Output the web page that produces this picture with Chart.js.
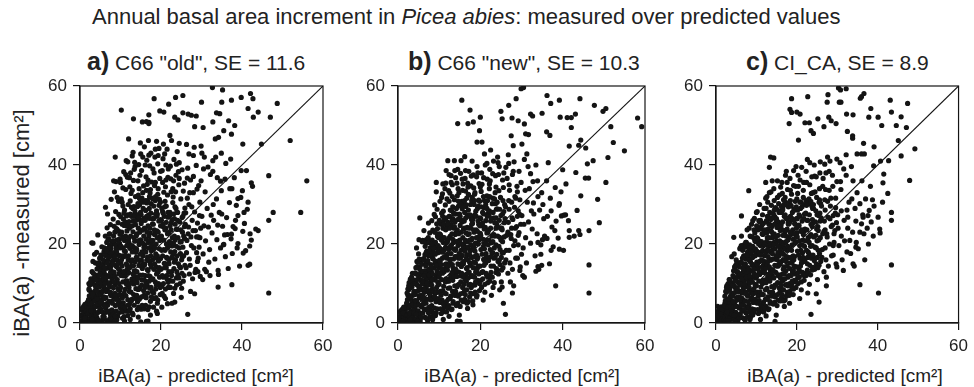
<!DOCTYPE html>
<html>
<head>
<meta charset="utf-8">
<script src="https://cdn.jsdelivr.net/npm/chart.js@4.4.1/dist/chart.umd.min.js"></script>
<style>
  body { margin: 0; background: #fff; width: 974px; height: 387px; overflow: hidden; position: relative;
         font-family: "Liberation Sans", Arial, Helvetica, sans-serif; color: #222; }
  canvas { position: absolute; left: 0; top: 0; }
  .txt { position: absolute; white-space: nowrap; line-height: 1; }
  .ptitle { font-size: 21px; line-height: 25px; }
  .ptitle b { font-size: 25px; }
  .xt { font-size: 19px; transform: translateX(-50%); }
</style>
</head>
<body>
<div class="txt" style="left:92px;top:6px;font-size:22px">Annual basal area increment in <i>Picea abies</i>: measured over predicted values</div>
<div class="txt ptitle" style="left:87px;top:49px"><b>a)</b> C66 "old", SE = 11.6</div>
<div class="txt ptitle" style="left:408px;top:49px"><b>b)</b> C66 "new", SE = 10.3</div>
<div class="txt ptitle" style="left:746px;top:49px"><b>c)</b> CI_CA, SE = 8.9</div>
<div class="txt xt" style="left:196px;top:366px">iBA(a) - predicted [cm²]</div>
<div class="txt xt" style="left:522px;top:366px">iBA(a) - predicted [cm²]</div>
<div class="txt xt" style="left:845px;top:366px">iBA(a) - predicted [cm²]</div>
<div class="txt" style="left:22px;top:223px;font-size:22px;transform:translate(-50%,-50%) rotate(-90deg)">iBA(a) -measured [cm²]</div>

<canvas id="ca" width="974" height="387"></canvas>
<canvas id="cb" width="974" height="387"></canvas>
<canvas id="cc" width="974" height="387"></canvas>

<script>
// axis ticks, same for all three panels
const tickValues = [0, 20, 40, 60];
// 1:1 reference line
const oneToOne = [[0, 0], [60, 60]];

// a) C66 "old": [predicted, measured]
const pointsA = [
  [0.4,0.6],[1.2,0.2],[0.9,1.5],[1.7,2.8],[1.4,0.9],[2.0,3.7],[0.6,2.1],[1.9,1.1],[1.1,3.2],[1.6,4.4],[0.8,0.4],[1.3,2.3],[2.1,0.6],[1.8,5.2],
  [2.4,3.2],[3.1,1.4],[2.8,6.1],[3.6,4.0],[2.3,8.3],[3.9,2.5],[3.3,7.2],[2.6,0.8],[3.7,9.6],[2.9,4.7],[3.4,11.3],[2.5,5.5],[3.8,6.4],[3.0,13.0],[2.7,2.2],[3.5,0.5],[3.2,15.6],[3.9,12.1],[2.2,10.0],[3.6,17.4],[2.9,20.3],[3.4,3.1],
  [4.2,1.3],[5.1,7.8],[4.7,4.2],[5.8,2.6],[4.4,9.9],[5.5,12.7],[4.9,0.4],[5.3,5.3],[4.0,6.8],[5.9,9.0],[4.6,14.1],[5.2,16.5],[4.3,11.6],[5.7,14.9],[4.8,2.9],[5.0,10.8],[5.6,6.0],[4.1,17.9],[5.4,19.3],[4.5,7.1],[5.9,18.0],[4.4,22.3],[5.1,3.6],[5.7,0.9],[4.9,12.4],
  [6.3,3.8],[7.4,1.2],[6.8,8.1],[7.9,5.5],[6.1,12.4],[7.2,14.7],[6.6,0.6],[7.7,10.3],[6.4,6.4],[7.0,17.6],[6.9,21.0],[7.6,7.2],[6.2,15.5],[7.3,19.8],[6.7,24.1],[7.8,13.1],[6.5,10.6],[7.1,3.0],[6.0,19.0],[7.5,24.9],[6.8,27.6],[7.9,16.9],[6.3,29.3],[7.2,22.5],[6.6,4.9],[7.7,1.9],[6.1,8.8],[7.4,11.9],[6.9,13.9],
  [8.2,2.7],[9.3,6.0],[8.7,9.7],[9.8,13.4],[8.4,15.9],[9.1,0.8],[8.9,18.8],[9.6,21.2],[8.1,12.0],[9.4,25.4],[8.6,23.0],[9.9,3.9],[8.3,6.6],[9.2,11.0],[8.8,28.2],[9.7,17.1],[8.0,20.5],[9.5,30.8],[8.5,33.2],[9.0,14.3],[8.7,4.4],[9.8,8.2],[8.2,26.3],[9.3,19.6],[8.9,35.8],[9.6,27.5],[8.4,1.1],[9.1,23.8],[8.6,17.4],[9.9,36.4],
  [10.3,7.0],[11.4,3.2],[10.8,11.9],[11.9,9.4],[10.1,15.2],[11.2,18.1],[10.6,21.7],[11.7,14.5],[10.4,25.0],[11.0,28.6],[10.9,1.6],[11.6,23.3],[10.2,31.4],[11.3,33.8],[10.7,5.1],[11.8,19.9],[10.5,17.0],[11.1,8.5],[10.0,35.6],[11.5,27.1],[10.8,38.3],[11.9,30.0],[10.3,12.8],[11.2,12.0],[10.6,29.6],[11.7,36.9],[10.1,22.5],[11.4,41.1],[10.9,24.7],[11.0,0.5],[10.4,3.4],[11.8,5.9],
  [12.2,4.7],[13.3,9.9],[12.7,14.4],[13.8,17.9],[12.1,20.3],[13.1,2.1],[12.9,24.6],[13.6,27.7],[12.4,30.9],[13.4,13.2],[12.6,7.8],[13.9,22.1],[12.3,34.5],[13.2,36.1],[12.8,11.1],[13.7,32.0],[12.0,17.0],[13.5,40.7],[12.5,38.0],[13.0,19.4],[12.7,27.0],[13.8,6.4],[12.2,24.0],[13.3,29.5],[12.9,42.3],[13.6,15.5],[12.4,0.9],[13.1,25.8],[12.6,32.8],[13.9,11.7],[12.1,9.0],[13.4,38.9],
  [14.2,5.4],[15.3,10.9],[14.7,15.8],[15.8,19.2],[14.1,22.6],[15.1,3.5],[14.9,26.1],[15.6,29.0],[14.4,32.4],[15.4,13.8],[14.6,8.6],[15.9,24.0],[14.3,36.0],[15.2,38.6],[14.8,12.1],[15.7,34.7],[14.0,18.5],[15.5,42.0],[14.5,40.1],[15.0,21.0],[14.7,29.9],[15.8,7.0],[14.2,27.4],[15.3,31.6],[14.9,45.6],[15.6,17.0],[14.4,1.5],[15.1,25.2],[14.6,34.0],[15.9,14.6],[14.1,10.2],[15.4,50.9],[15.0,0.3],
  [16.2,6.6],[17.3,11.8],[16.7,16.7],[17.8,20.6],[16.1,23.8],[17.1,4.1],[16.9,27.3],[17.6,30.2],[16.4,33.6],[17.4,14.9],[16.6,9.5],[17.9,25.1],[16.3,37.0],[17.2,39.8],[16.8,13.3],[17.7,35.7],[16.0,19.8],[17.5,43.0],[16.5,41.2],[17.0,22.0],[16.7,31.0],[17.8,8.0],[16.2,28.5],[17.3,32.9],[16.9,46.2],[17.6,18.3],[16.4,0.4],[17.1,26.5],[16.6,35.1],[17.9,16.0],[16.1,12.0],[17.4,2.0],[17.0,50.8],
  [18.2,7.6],[19.3,12.9],[18.7,17.5],[19.8,21.9],[18.1,25.0],[19.1,5.0],[18.9,28.4],[19.6,31.3],[18.4,34.8],[19.4,15.7],[18.6,10.4],[19.9,26.2],[18.3,38.0],[19.2,40.3],[18.8,14.2],[19.7,36.6],[18.0,20.9],[19.5,44.2],[18.5,42.0],[19.0,23.3],[18.7,32.0],[19.8,9.0],[18.2,29.6],[19.3,34.0],[18.9,3.0],[19.6,18.8],[18.4,22.4],[19.1,27.6],[19.9,16.3],
  [20.2,9.3],[21.3,14.0],[20.7,18.6],[21.8,22.9],[20.1,26.0],[21.1,6.2],[20.9,29.4],[21.6,32.4],[20.4,35.6],[21.4,16.6],[20.6,11.6],[21.9,27.0],[20.3,38.6],[21.2,40.0],[20.8,15.1],[21.7,36.9],[20.0,21.9],[21.5,20.0],[20.5,24.4],[21.0,30.8],[20.7,33.1],[21.8,10.3],[20.2,4.0],[21.3,25.5],[20.9,42.8],[21.6,19.0],[20.4,28.2],[21.1,34.5],[20.6,45.3],[21.9,13.0],
  [22.2,10.8],[23.3,15.4],[22.7,19.5],[23.8,23.8],[22.1,27.0],[23.1,7.5],[22.9,30.5],[23.6,33.2],[22.4,36.5],[23.4,18.1],[22.6,13.0],[23.9,28.0],[22.3,39.7],[23.2,41.4],[22.8,16.5],[23.7,37.4],[22.0,22.8],[23.5,21.0],[22.5,25.3],[23.0,31.9],[22.7,5.0],[23.8,11.4],[22.2,47.5],[23.3,26.4],[22.9,34.0],
  [24.2,12.2],[25.3,16.8],[24.7,20.5],[25.8,24.4],[24.1,28.0],[25.1,8.8],[24.9,31.4],[25.6,22.0],[24.4,35.0],[25.4,19.2],[24.6,14.3],[25.9,29.1],[24.3,38.3],[25.2,26.7],[24.8,17.6],[25.7,12.0],[24.0,23.7],[25.5,33.4],[24.5,40.6],[25.0,6.5],
  [26.2,14.0],[27.5,19.6],[26.8,24.3],[28.3,28.1],[27.1,33.0],[29.2,16.4],[26.5,36.7],[28.8,21.8],[27.8,11.2],[29.6,30.6],[26.1,27.9],[28.0,37.1],[27.3,8.0],[29.0,25.3],[26.9,42.8],[28.6,13.6],[29.9,36.0],[27.6,29.4],[26.4,20.9],[28.9,33.9],[29.4,19.2],[27.0,16.2],[28.2,44.5],[29.7,11.8],
  [30.4,17.5],[31.7,24.3],[32.9,30.0],[30.9,33.2],[33.8,21.1],[31.2,13.0],[34.4,28.0],[32.2,37.6],[30.1,27.0],[33.3,16.2],[34.9,33.5],[31.6,39.5],[32.6,22.8],[30.7,42.0],[33.9,36.8],[34.2,12.3],[31.0,20.8],[32.4,27.3],[33.5,42.0],[34.7,19.0],[30.3,11.0],
  [35.5,19.9],[36.2,26.7],[36.9,30.5],[37.6,17.6],[38.3,23.9],[39.0,27.2],[39.7,31.8],[35.8,36.4],[36.6,13.8],[37.3,21.3],[38.1,36.8],[38.8,19.0],[40.6,25.2],[41.3,28.8],[42.6,34.6],[43.4,23.8],[41.9,14.9],[40.9,18.3],[36.0,40.4],[39.4,14.4],[42.0,22.6],[35.2,24.5],
  // scattered points away from the cloud
  [10.2,53.9],[18.3,56.8],[23.6,57.1],[25.4,57.6],[32.7,59.6],[35.2,59.0],[30.0,55.9],[35.0,55.9],[37.4,56.4],[39.8,57.1],[42.1,58.1],[42.7,56.8],[48.7,55.6],[41.5,54.3],[44.0,53.4],[42.8,52.1],[47.0,52.1],[21.9,55.4],[19.7,53.7],[13.2,51.7],[17.0,52.7],[16.4,51.0],[17.0,50.5],[20.7,53.4],[23.4,52.1],[24.2,51.4],[25.4,53.2],[26.7,52.9],[27.5,52.6],[28.7,52.4],[28.3,49.7],[30.4,49.5],[32.8,50.9],[33.7,53.2],[34.5,53.0],[38.2,50.0],[37.4,47.8],[33.4,46.6],[34.2,47.0],[35.5,48.7],[36.7,51.2],[40.2,45.3],[44.8,45.3],[51.9,46.2],[56.0,36.0],[46.6,37.3],[42.3,35.5],[40.1,33.5],[41.1,38.6],[39.8,38.6],[47.7,28.0],[54.5,28.0],[46.6,26.0],[44.0,23.4],[41.5,14.6],[37.5,9.7],[46.6,7.6],[26.6,2.2],[12.0,46.6],[8.7,42.0],[8.3,36.0],[7.7,31.3],[3.2,20.2],[3.8,15.2],[15.0,42.8],[17.0,42.5],[18.6,44.0],[19.3,42.4],[22.6,46.2],[24.5,45.5],[30.1,43.0],[28.0,42.4],[29.9,44.8],[34.9,43.0],[37.2,41.5],[32.8,41.1],[30.5,39.0],[32.8,38.4],[34.7,35.9],[37.5,34.0],[39.0,31.5],[41.5,30.6],[40.5,28.0],[38.4,26.0],[37.8,24.4],[37.4,22.5],[40.2,23.2],[42.3,21.0],[41.9,19.5],[40.3,17.7],[39.0,20.1],[35.7,22.3],[35.4,19.8],[34.1,13.3],[32.1,12.0],[30.8,13.6],[29.1,13.0],[28.3,7.4],[21.6,4.9],[23.4,5.3],[19.1,2.4],[16.8,0.5],[34.1,9.1]
];
// a) the dark core of the cloud and its denser fringe
const coreA = [
  [0.2,1.8],[0.5,3.3],[0.7,0.9],[1.0,2.6],[1.2,4.7],[1.4,1.9],[1.6,0.3],[1.8,3.9],[0.3,0.2],[0.9,4.2],[1.5,3.1],[1.1,0.7],[1.9,2.4],[0.6,3.8],[1.3,1.3],
  [2.1,5.9],[2.2,2.8],[2.4,9.6],[2.5,1.2],[2.6,4.3],[2.7,11.2],[2.8,7.7],[2.9,2.0],[3.0,5.0],[3.1,9.9],[3.2,3.7],[3.3,0.4],[3.4,6.6],[3.5,10.8],[3.6,8.0],[3.7,1.9],[3.8,4.2],[3.9,9.0],[2.3,6.9],[2.5,0.2],[2.8,3.1],[3.1,7.4],[3.4,1.6],[3.7,11.9],[3.9,5.9],[2.2,8.6],[2.6,10.4],[3.0,0.9],[3.3,12.6],[3.6,5.6],
  [4.0,2.1],[4.1,8.2],[4.2,13.7],[4.3,4.9],[4.4,0.8],[4.5,10.9],[4.6,6.0],[4.7,15.3],[4.8,9.1],[4.9,3.6],[5.0,12.9],[5.1,0.2],[5.2,7.0],[5.3,14.6],[5.4,2.9],[5.5,9.4],[5.6,11.7],[5.7,4.7],[5.8,15.9],[5.9,6.6],[4.05,11.0],[4.25,6.2],[4.45,2.7],[4.65,12.0],[4.85,16.4],[5.05,5.2],[5.25,10.2],[5.45,13.6],[5.65,1.6],[5.85,11.0],[4.35,15.0],[4.75,0.6],[5.15,17.2],[5.55,8.0],[5.95,13.2],
  [6.0,1.5],[6.1,6.2],[6.2,10.0],[6.3,17.1],[6.4,2.7],[6.5,13.9],[6.6,20.4],[6.7,8.4],[6.8,4.5],[6.9,16.0],[7.0,11.8],[7.1,21.3],[7.2,5.5],[7.3,9.2],[7.4,18.0],[7.5,2.2],[7.6,14.2],[7.7,6.9],[7.8,20.0],[7.9,11.0],[6.05,14.0],[6.25,22.0],[6.45,8.0],[6.65,12.0],[6.85,18.9],[7.05,0.3],[7.25,16.8],[7.45,7.8],[7.65,19.0],[7.85,3.3],[6.15,4.2],[6.35,11.4],[6.55,18.3],[6.75,15.2],[6.95,2.9],[7.15,9.9],[7.35,22.6],[7.55,12.8],[7.75,0.9],[7.95,15.6],
  [8.0,5.0],[8.1,17.8],[8.2,9.0],[8.3,22.0],[8.4,12.9],[8.5,0.4],[8.6,7.5],[8.7,19.9],[8.8,14.6],[8.9,3.0],[9.0,10.4],[9.1,21.0],[9.2,16.0],[9.3,1.7],[9.4,8.5],[9.5,23.3],[9.6,12.5],[9.7,5.4],[9.8,19.0],[9.9,15.5],[8.05,14.9],[8.25,2.2],[8.45,24.5],[8.65,11.8],[8.85,6.0],[9.05,18.0],[9.25,4.7],[9.45,13.8],[9.65,10.0],[9.85,22.5],[8.15,20.8],[8.35,10.5],[8.55,16.9],[8.75,1.8],[8.95,23.9],[9.15,7.1],[9.35,15.0],[9.55,2.6],[9.75,20.2],[9.95,7.0],
  [10.0,9.0],[10.1,19.5],[10.2,4.4],[10.3,23.0],[10.4,14.4],[10.5,1.2],[10.6,10.4],[10.7,26.3],[10.8,16.8],[10.9,7.6],[11.0,20.9],[11.1,12.9],[11.2,3.0],[11.3,17.0],[11.4,24.6],[11.5,9.8],[11.6,13.5],[11.7,27.4],[11.8,1.9],[11.9,16.0],[10.05,26.9],[10.25,16.0],[10.45,6.3],[10.65,19.0],[10.85,27.8],[11.05,4.0],[11.25,22.0],[11.45,15.0],[11.65,10.7],[11.85,24.8],[10.15,12.0],[10.35,2.8],[10.55,21.4],[10.75,13.0],[10.95,18.3],[11.15,25.6],[11.35,6.9],[11.55,19.6],[11.75,4.5],[11.95,21.0],
  [12.0,12.8],[12.1,25.7],[12.2,8.0],[12.3,18.9],[12.4,3.6],[12.5,22.0],[12.6,15.6],[12.7,29.3],[12.8,6.0],[12.9,18.0],[13.0,10.5],[13.1,23.1],[13.2,14.5],[13.3,27.0],[13.4,4.5],[13.5,20.7],[13.6,11.2],[13.7,24.9],[13.8,8.7],[13.9,16.6],[12.05,21.5],[12.25,14.0],[12.45,27.6],[12.65,5.5],[12.85,16.0],[13.05,29.0],[13.25,7.2],[13.45,19.0],[13.65,13.0],[13.85,26.0],[12.15,3.0],[12.35,10.0],[12.55,24.5],[12.75,19.6],[12.95,2.5],[13.15,12.3],[13.35,21.6],[13.55,28.4],[13.75,6.2],[13.95,18.8],
  [14.0,7.0],[14.1,16.4],[14.2,29.5],[14.3,11.3],[14.4,24.0],[14.5,4.0],[14.6,19.9],[14.7,31.5],[14.8,9.0],[14.9,21.0],[15.0,14.4],[15.1,27.4],[15.2,6.6],[15.3,18.0],[15.4,23.5],[15.5,12.1],[15.6,30.6],[15.7,8.2],[15.8,26.5],[15.9,19.0],[14.05,13.0],[14.25,20.8],[14.45,26.7],[14.65,6.0],[14.85,17.4],[15.05,31.0],[15.25,9.6],[15.45,20.2],[15.65,14.9],[15.85,3.6],[14.15,3.4],[14.35,8.5],[14.55,14.6],[14.75,23.0],[14.95,28.0],[15.15,16.0],[15.35,4.5],[15.55,26.0],[15.75,22.0],[15.95,10.8],
  [16.0,15.0],[16.1,26.0],[16.2,4.5],[16.3,21.2],[16.4,10.0],[16.5,30.4],[16.6,16.0],[16.7,7.6],[16.8,24.6],[16.9,12.0],[17.0,19.0],[17.1,29.0],[17.2,8.8],[17.3,22.8],[17.4,5.5],[17.5,27.8],[17.6,14.2],[17.7,19.6],[17.8,11.0],[17.9,31.5],[16.05,9.0],[16.25,18.0],[16.45,27.0],[16.65,13.5],[16.85,20.4],[17.05,10.6],[17.25,24.0],[17.45,17.0],[17.65,6.6],[17.85,26.4],[16.15,31.0],[16.35,6.4],[16.55,23.0],[16.75,3.4],[16.95,15.8],[17.15,32.0],[17.35,21.0],[17.55,9.0],
  [18.0,11.2],[18.1,18.6],[18.2,26.4],[18.3,6.2],[18.4,15.0],[18.5,23.0],[18.6,31.0],[18.7,8.6],[18.8,20.0],[18.9,12.4],[19.0,27.0],[19.1,17.0],[19.2,5.8],[19.3,23.0],[19.4,10.0],[19.5,29.8],[19.6,14.0],[19.7,20.9],[19.8,7.2],[19.9,24.6],[18.05,31.6],[18.25,13.6],[18.45,19.0],[18.65,27.6],[18.85,9.6],[19.05,21.6],[19.25,16.0],[19.45,25.8],[19.65,11.6],[19.85,30.6],[18.15,4.0],[18.35,23.6],[18.55,16.6],[18.75,6.4],[19.15,13.0],
  [20.0,13.6],[20.1,22.0],[20.2,29.0],[20.3,7.5],[20.4,17.0],[20.5,25.0],[20.6,10.0],[20.7,21.0],[20.8,27.0],[20.9,14.0],[21.0,18.4],[21.1,8.6],[21.2,24.0],[21.3,29.6],[21.4,12.0],[21.5,16.4],[21.6,22.6],[21.7,26.8],[21.8,9.0],[21.9,19.6],[20.15,18.4],[20.35,12.0],[20.55,27.8],[20.75,6.8],[20.95,23.6],[21.15,15.0],[21.35,20.0],[21.55,11.0],[21.75,28.0],[21.95,16.0],
  [22.0,15.0],[22.1,20.6],[22.2,28.0],[22.3,9.0],[22.4,18.0],[22.5,23.6],[22.6,12.0],[22.7,26.0],[22.8,21.6],[22.9,10.6],[23.0,17.4],[23.1,27.6],[23.2,13.8],[23.3,22.0],[23.4,8.8],[23.5,25.0],[23.6,16.0],[23.7,29.0],[23.8,19.4],[23.9,13.0],[22.25,24.6],[22.65,16.6],[23.05,20.2],[23.45,29.4],[23.85,9.6],
  [24.0,17.0],[24.2,21.6],[24.4,11.4],[24.6,25.6],[24.8,14.0],[25.0,20.6],[25.2,12.6],[25.4,27.0],[25.6,17.0],[25.8,21.4],[24.1,26.0],[24.3,15.0],[24.5,19.0],[24.7,10.0],[24.9,23.6],[25.1,16.0],[25.3,23.0],[25.5,10.6],[25.7,27.8],[25.9,14.6],
  [26.3,17.8],[26.7,22.6],[27.2,14.6],[27.7,26.0],[28.1,19.0],[28.5,23.4],[29.0,15.6],[29.5,27.2],[26.0,25.0],[26.9,30.0],[27.4,21.8],[28.4,12.8],[29.2,21.8],[29.8,24.0],[27.0,12.4],
  [9.2,31.8],[10.6,34.2],[11.3,37.6],[12.2,36.8],[12.9,33.6],[13.6,39.6],[14.3,30.2],[14.8,37.4],[15.5,33.0],[16.1,40.0],[16.8,36.2],[17.4,33.8],[18.0,39.0],[18.6,35.6],[19.2,32.6],[19.9,38.4],[20.5,41.6],[21.2,36.2],[21.8,39.0],[22.5,33.2],[23.1,36.0],[23.8,40.2],[24.5,36.6],[25.2,38.8],[25.8,35.4],[26.6,39.2],[27.3,36.2],[28.0,33.0],[28.7,39.9],[29.3,34.8],[13.1,43.2],[15.9,44.6],[18.9,46.0],[21.5,44.0],[24.0,43.4],[26.3,45.2],[11.8,40.8],[10.4,30.6],
  [26.5,31.6],[27.9,23.4],[28.8,17.8],[30.6,24.6],[31.4,29.0],[32.0,18.6],[33.0,26.0],[33.7,31.4],[35.0,27.6],[36.4,22.4],[37.0,34.0],[38.6,29.8],[31.8,15.4],[29.6,21.6],[35.9,16.8],[34.0,24.8]
];

// b) C66 "new"
const pointsB = [
  [0.5,0.4],[1.3,0.9],[0.9,2.0],[1.8,1.5],[1.1,3.1],[0.6,1.0],[1.6,2.6],[2.0,0.3],[1.4,4.0],[0.8,2.8],[1.9,3.6],
  [2.3,1.8],[3.2,4.6],[2.7,6.3],[3.6,2.7],[2.5,3.9],[3.9,7.8],[2.9,0.6],[3.4,9.2],[2.2,5.2],[3.7,5.5],[3.0,11.1],[2.6,8.4],[3.8,0.9],[3.3,2.0],[2.8,10.0],[3.5,12.6],[2.4,7.1],[3.1,6.9],
  [4.2,3.3],[5.1,6.9],[4.7,9.6],[5.8,4.4],[4.4,12.4],[5.5,11.0],[4.9,1.2],[5.3,14.2],[4.0,5.6],[5.9,8.5],[4.6,15.6],[5.2,2.3],[4.3,7.9],[5.7,12.9],[4.8,4.6],[5.0,17.5],[5.6,16.0],[4.1,10.5],[5.4,0.5],[4.5,19.0],[5.9,20.6],[4.4,0.2],[5.1,9.0],
  [6.3,5.1],[7.4,2.6],[6.8,9.2],[7.9,6.7],[6.1,13.0],[7.2,15.6],[6.6,1.4],[7.7,11.4],[6.4,7.8],[7.0,18.2],[6.9,21.1],[7.6,4.0],[6.2,16.3],[7.3,13.3],[6.7,11.0],[7.8,17.9],[6.5,3.4],[7.1,8.0],[6.0,20.9],[7.5,20.5],[6.8,15.0],[7.9,10.4],[6.3,23.4],[7.2,0.6],[6.6,6.1],[7.7,22.8],[6.1,9.9],[7.4,25.3],
  [8.2,4.4],[9.3,7.7],[8.7,11.0],[9.8,14.3],[8.4,16.5],[9.1,1.9],[8.9,19.5],[9.6,21.9],[8.1,13.1],[9.4,25.1],[8.6,23.3],[9.9,5.8],[8.3,8.6],[9.2,12.0],[8.8,27.5],[9.7,17.8],[8.0,20.3],[9.5,28.8],[8.5,2.6],[9.0,15.2],[8.7,6.1],[9.8,9.8],[8.2,25.9],[9.3,19.0],[8.9,29.9],[9.6,23.9],[8.4,0.8],[9.1,26.9],[8.6,18.0],[9.9,11.7],
  [10.3,8.0],[11.4,4.6],[10.8,12.6],[11.9,10.6],[10.1,15.9],[11.2,18.5],[10.6,21.8],[11.7,15.0],[10.4,25.0],[11.0,28.3],[10.9,2.8],[11.6,23.6],[10.2,30.8],[11.3,26.2],[10.7,5.8],[11.8,20.3],[10.5,18.0],[11.1,9.3],[10.0,12.0],[11.5,29.9],[10.8,32.7],[11.9,31.4],[10.3,14.0],[11.2,13.0],[10.6,27.8],[11.7,7.4],[10.1,22.6],[11.4,34.0],[10.9,24.0],[11.0,0.9],
  [12.2,6.0],[13.3,10.8],[12.7,15.0],[13.8,18.6],[12.1,20.9],[13.1,3.5],[12.9,24.9],[13.6,27.6],[12.4,30.8],[13.4,13.9],[12.6,8.9],[13.9,22.4],[12.3,33.5],[13.2,35.0],[12.8,12.0],[13.7,31.2],[12.0,17.4],[13.5,16.2],[12.5,27.0],[13.0,19.8],[12.7,22.0],[13.8,7.2],[12.2,11.1],[13.3,29.4],[12.9,37.3],[13.6,24.0],[12.4,1.7],[13.1,26.0],[12.6,32.9],[13.9,12.2],[12.1,25.5],[13.4,5.0],
  [14.2,7.0],[15.3,11.9],[14.7,16.4],[15.8,19.6],[14.1,22.9],[15.1,4.2],[14.9,26.3],[15.6,28.9],[14.4,32.2],[15.4,14.3],[14.6,9.6],[15.9,23.8],[14.3,35.4],[15.2,37.9],[14.8,12.9],[15.7,33.6],[14.0,18.8],[15.5,30.8],[14.5,38.9],[15.0,21.0],[14.7,29.6],[15.8,7.6],[14.2,27.6],[15.3,26.0],[14.9,2.0],[15.6,17.1],[14.4,20.6],[15.1,24.7],[14.6,34.0],[15.9,15.0],[14.1,13.2],[14.4,0.5],[15.1,0.4],
  [16.2,8.3],[17.3,12.9],[16.7,17.3],[17.8,21.0],[16.1,24.0],[17.1,5.4],[16.9,27.3],[17.6,30.0],[16.4,33.4],[17.4,15.3],[16.6,10.6],[17.9,25.0],[16.3,36.6],[17.2,38.4],[16.8,14.0],[17.7,34.7],[16.0,20.0],[17.5,18.3],[16.5,29.5],[17.0,22.4],[16.7,31.6],[17.8,9.0],[16.2,28.0],[17.3,27.0],[16.9,3.7],[17.6,24.1],[16.4,12.2],[17.1,32.6],[16.6,19.0],[17.9,16.6],
  [18.2,9.6],[19.3,14.0],[18.7,18.2],[19.8,22.0],[18.1,25.2],[19.1,6.6],[18.9,28.3],[19.6,31.1],[18.4,34.2],[19.4,16.6],[18.6,11.6],[19.9,26.6],[18.3,37.5],[19.2,39.6],[18.8,15.2],[19.7,35.3],[18.0,21.4],[19.5,20.0],[18.5,30.0],[19.0,23.6],[18.7,33.0],[19.8,10.0],[18.2,4.6],[19.3,29.0],[18.9,13.0],[19.6,25.0],[18.4,27.0],[19.1,37.0],
  [20.2,10.8],[21.3,15.2],[20.7,19.3],[21.8,23.0],[20.1,26.4],[21.1,7.8],[20.9,29.2],[21.6,32.2],[20.4,35.1],[21.4,17.6],[20.6,13.0],[21.9,27.8],[20.3,38.0],[21.2,40.0],[20.8,16.1],[21.7,36.4],[20.0,22.7],[21.5,21.0],[20.5,24.6],[21.0,31.0],[20.7,5.8],[21.8,11.6],[20.2,33.3],[21.3,25.9],[20.9,20.0],[21.6,29.0],
  [22.2,12.0],[23.3,16.4],[22.7,20.3],[23.8,24.0],[22.1,27.3],[23.1,9.0],[22.9,30.2],[23.6,33.0],[22.4,36.0],[23.4,19.0],[22.6,14.4],[23.9,28.8],[22.3,38.9],[23.2,41.0],[22.8,17.7],[23.7,37.3],[22.0,23.5],[23.5,22.0],[22.5,25.8],[23.0,31.6],[22.7,7.0],[23.8,12.8],[22.2,34.0],[23.3,26.6],
  [24.2,13.4],[25.3,17.8],[24.7,21.7],[25.8,25.4],[24.1,28.9],[25.1,10.4],[24.9,31.8],[25.6,34.3],[24.4,37.6],[25.4,20.6],[24.6,15.9],[25.9,30.0],[24.3,40.6],[25.2,24.0],[24.8,18.6],[25.7,38.0],[24.0,25.0],[25.5,14.0],[24.5,33.5],[25.0,27.2],[24.7,8.4],
  [26.2,16.0],[27.5,21.4],[26.8,25.5],[28.3,29.3],[27.1,33.6],[29.2,19.8],[26.5,36.6],[28.8,24.4],[27.8,13.6],[29.6,31.2],[26.1,29.4],[28.0,38.4],[27.3,10.4],[29.0,27.0],[26.9,40.4],[28.6,16.4],[29.9,35.6],[27.6,30.6],[26.4,22.2],[28.9,34.6],[29.4,22.9],[27.0,18.4],[28.2,40.8],[29.7,14.2],[26.7,12.6],[27.9,26.2],
  [30.4,19.0],[31.7,25.6],[32.9,30.4],[30.9,33.6],[33.8,22.6],[31.2,15.2],[34.4,28.6],[32.2,37.8],[30.1,27.2],[33.3,17.0],[34.9,33.0],[31.6,39.6],[32.6,23.8],[30.7,41.4],[33.9,36.0],[34.2,13.6],[31.0,21.6],[32.4,28.4],[33.5,40.0],[34.7,19.8],[30.3,12.0],[31.9,34.0],
  [35.6,22.0],[36.3,27.0],[37.0,31.6],[37.7,19.3],[38.4,25.8],[39.1,29.8],[36.1,36.0],[36.8,15.0],[37.4,24.3],[38.2,34.3],[38.9,21.5],[40.7,27.4],[41.6,23.4],[42.8,22.0],[35.2,30.0],[39.6,33.2],[40.2,18.4],[36.5,40.6],[43.5,28.5],
  // scattered points away from the cloud
  [15.5,56.4],[17.5,53.9],[14.5,50.5],[17.0,50.5],[18.3,50.9],[20.0,52.1],[19.8,48.7],[19.2,45.8],[20.4,45.8],[22.5,43.8],[29.9,59.3],[30.5,59.6],[28.7,56.8],[26.9,55.1],[25.0,53.6],[25.3,51.7],[27.7,51.9],[29.2,51.2],[30.7,50.4],[32.2,52.9],[32.7,52.4],[31.0,47.9],[31.7,47.7],[27.5,47.4],[28.0,44.9],[30.1,45.3],[31.3,42.8],[35.0,53.1],[36.2,57.6],[37.1,55.6],[39.2,56.4],[39.4,52.1],[41.1,52.0],[42.1,52.0],[43.1,52.9],[44.2,56.8],[47.7,55.1],[49.8,53.6],[50.5,54.3],[51.7,49.7],[42.1,49.5],[36.1,48.4],[36.9,47.5],[44.4,46.3],[41.6,44.8],[43.9,45.0],[45.6,44.3],[52.3,45.7],[55.0,43.6],[51.0,41.9],[46.0,40.3],[47.4,41.1],[43.2,38.1],[45.5,36.7],[46.3,36.7],[50.5,35.6],[48.5,31.3],[44.4,32.2],[40.8,35.2],[39.2,30.2],[40.0,38.8],[58.2,51.9],[59.2,49.7],[48.9,25.4],[46.4,23.4],[43.9,23.4],[44.2,22.4],[41.6,21.7],[41.4,25.9],[39.7,27.1],[40.3,27.3],[38.1,23.4],[39.2,18.7],[37.2,18.4],[34.7,17.4],[35.1,21.1],[34.0,20.4],[46.4,14.7],[46.4,7.6],[38.3,9.4],[33.5,13.1],[34.0,14.3],[34.9,14.6],[30.7,11.6],[29.6,13.3],[27.8,7.6],[28.1,9.4],[25.6,5.0],[26.1,2.2],[25.3,9.1],[5.3,26.6],[5.1,21.1],[9.3,35.6],[9.3,33.2],[12.1,41.1],[13.7,41.1],[15.3,41.1],[16.2,42.1],[11.7,38.6],[13.8,38.6],[12.9,35.6],[10.9,35.2],[15.8,35.2],[16.9,35.4]
];
// b) the dark core of the cloud and its denser fringe
const coreB = [
  [0.3,1.4],[0.5,2.9],[0.7,0.5],[1.0,2.0],[1.2,3.6],[1.4,1.1],[1.6,0.2],[1.8,2.7],[0.2,0.7],[0.9,3.3],[1.5,3.9],[1.1,0.4],[1.9,1.9],[0.6,2.4],[1.3,2.6],
  [2.1,4.9],[2.2,2.0],[2.4,8.6],[2.5,1.0],[2.6,3.8],[2.7,10.2],[2.8,6.7],[2.9,1.6],[3.0,4.4],[3.1,8.9],[3.2,3.0],[3.3,0.3],[3.4,5.6],[3.5,9.8],[3.6,7.0],[3.7,1.4],[3.8,3.6],[3.9,8.0],[2.3,5.9],[2.5,0.1],[2.8,2.6],[3.1,6.4],[3.4,1.2],[3.7,10.9],[3.9,4.9],[2.2,7.6],[2.6,9.4],[3.0,0.8],[3.3,11.6],[3.6,4.6],
  [4.0,2.6],[4.1,7.2],[4.2,12.7],[4.3,4.4],[4.4,1.0],[4.5,9.9],[4.6,5.6],[4.7,14.3],[4.8,8.1],[4.9,3.1],[5.0,11.9],[5.1,0.6],[5.2,6.4],[5.3,13.6],[5.4,2.4],[5.5,8.4],[5.6,10.7],[5.7,4.1],[5.8,14.9],[5.9,6.0],[4.05,10.0],[4.25,5.7],[4.45,2.2],[4.65,11.0],[4.85,15.4],[5.05,4.6],[5.25,9.2],[5.45,12.6],[5.65,1.4],[5.85,10.0],[4.35,14.0],[4.75,0.5],[5.15,16.2],[5.55,7.0],[5.95,12.2],
  [6.0,2.5],[6.1,6.8],[6.2,10.6],[6.3,16.1],[6.4,3.3],[6.5,13.2],[6.6,19.4],[6.7,8.9],[6.8,5.0],[6.9,15.0],[7.0,11.4],[7.1,20.3],[7.2,6.0],[7.3,9.6],[7.4,17.0],[7.5,2.8],[7.6,13.6],[7.7,7.4],[7.8,19.0],[7.9,11.6],[6.05,13.0],[6.25,20.6],[6.45,8.5],[6.65,12.4],[6.85,17.9],[7.05,1.0],[7.25,15.8],[7.45,8.2],[7.65,18.2],[7.85,4.0],[6.15,4.8],[6.35,11.9],[6.55,17.3],[6.75,14.4],[6.95,3.6],[7.15,10.2],[7.35,21.6],[7.55,12.2],[7.75,1.6],[7.95,14.8],
  [8.0,5.8],[8.1,17.0],[8.2,9.6],[8.3,21.0],[8.4,12.4],[8.5,1.4],[8.6,8.0],[8.7,19.0],[8.8,14.0],[8.9,3.8],[9.0,10.9],[9.1,20.4],[9.2,15.6],[9.3,2.6],[9.4,9.0],[9.5,22.6],[9.6,12.9],[9.7,6.2],[9.8,18.4],[9.9,15.0],[8.05,14.2],[8.25,3.0],[8.45,23.5],[8.65,11.2],[8.85,6.8],[9.05,17.4],[9.25,5.4],[9.45,13.2],[9.65,10.4],[9.85,21.6],[8.15,20.0],[8.35,10.9],[8.55,16.2],[8.75,2.4],[8.95,23.0],[9.15,7.8],[9.35,14.6],[9.55,3.6],[9.75,19.6],[9.95,7.8],
  [10.0,9.8],[10.1,19.0],[10.2,5.2],[10.3,22.4],[10.4,14.8],[10.5,2.4],[10.6,11.0],[10.7,25.4],[10.8,16.4],[10.9,8.2],[11.0,20.4],[11.1,13.4],[11.2,3.9],[11.3,16.8],[11.4,23.8],[11.5,10.4],[11.6,13.9],[11.7,26.6],[11.8,2.8],[11.9,16.4],[10.05,26.0],[10.25,15.6],[10.45,7.0],[10.65,18.6],[10.85,27.0],[11.05,4.8],[11.25,21.6],[11.45,14.8],[11.65,11.2],[11.85,24.0],[10.15,12.6],[10.35,3.6],[10.55,21.0],[10.75,13.6],[10.95,18.0],[11.15,25.0],[11.35,7.6],[11.55,19.2],[11.75,5.4],[11.95,20.6],
  [12.0,13.4],[12.1,25.0],[12.2,8.8],[12.3,18.6],[12.4,4.4],[12.5,21.6],[12.6,15.9],[12.7,28.6],[12.8,6.8],[12.9,17.6],[13.0,11.2],[13.1,22.6],[13.2,14.8],[13.3,26.4],[13.4,5.4],[13.5,20.4],[13.6,11.8],[13.7,24.4],[13.8,9.4],[13.9,16.8],[12.05,21.0],[12.25,14.4],[12.45,27.0],[12.65,6.2],[12.85,16.2],[13.05,28.4],[13.25,8.0],[13.45,18.8],[13.65,13.4],[13.85,25.6],[12.15,3.8],[12.35,10.6],[12.55,24.0],[12.75,19.4],[12.95,3.4],[13.15,12.8],[13.35,21.2],[13.55,27.8],[13.75,7.0],[13.95,18.4],
  [14.0,8.0],[14.1,16.8],[14.2,29.0],[14.3,11.8],[14.4,23.6],[14.5,5.0],[14.6,19.6],[14.7,30.8],[14.8,9.8],[14.9,20.8],[15.0,14.8],[15.1,27.0],[15.2,7.4],[15.3,18.4],[15.4,23.0],[15.5,12.6],[15.6,30.0],[15.7,9.0],[15.8,26.0],[15.9,19.2],[14.05,13.6],[14.25,20.6],[14.45,26.2],[14.65,6.8],[14.85,17.6],[15.05,30.4],[15.25,10.4],[15.45,20.0],[15.65,15.2],[15.85,5.4],[14.15,4.4],[14.35,9.2],[14.55,15.0],[14.75,22.6],[14.95,27.6],[15.15,16.4],[15.35,5.8],[15.55,25.6],[15.75,21.6],[15.95,11.6],
  [16.0,15.6],[16.1,25.8],[16.2,6.0],[16.3,21.0],[16.4,10.8],[16.5,30.0],[16.6,16.4],[16.7,8.4],[16.8,24.2],[16.9,12.6],[17.0,19.2],[17.1,28.6],[17.2,9.6],[17.3,22.6],[17.4,6.6],[17.5,27.4],[17.6,14.6],[17.7,19.8],[17.8,11.8],[17.9,31.0],[16.05,9.8],[16.25,18.2],[16.45,26.6],[16.65,13.8],[16.85,20.6],[17.05,11.4],[17.25,24.0],[17.45,17.2],[17.65,7.6],[17.85,26.2],[16.15,31.0],[16.35,7.2],[16.55,22.8],[16.75,5.0],[16.95,16.0],[17.15,32.4],[17.35,21.0],[17.55,9.8],
  [18.0,12.0],[18.1,18.8],[18.2,26.2],[18.3,7.4],[18.4,15.4],[18.5,23.0],[18.6,31.0],[18.7,9.6],[18.8,20.2],[18.9,12.8],[19.0,27.0],[19.1,17.2],[19.2,7.0],[19.3,23.2],[19.4,10.8],[19.5,29.6],[19.6,14.4],[19.7,21.0],[19.8,8.2],[19.9,24.6],[18.05,31.8],[18.25,14.0],[18.45,19.2],[18.65,27.4],[18.85,10.4],[19.05,21.6],[19.25,16.2],[19.45,25.8],[19.65,12.4],[19.85,30.8],[18.15,5.6],[18.35,23.6],[18.55,16.8],[18.75,7.8],[19.15,13.4],
  [20.0,14.4],[20.1,22.2],[20.2,29.4],[20.3,9.0],[20.4,17.4],[20.5,25.2],[20.6,11.2],[20.7,21.2],[20.8,27.6],[20.9,14.6],[21.0,18.8],[21.1,9.8],[21.2,24.2],[21.3,30.0],[21.4,12.6],[21.5,16.8],[21.6,22.8],[21.7,27.0],[21.8,10.2],[21.9,19.8],[20.15,18.6],[20.35,12.8],[20.55,28.0],[20.75,32.0],[20.95,23.8],[21.15,15.4],[21.35,20.2],[21.55,12.0],[21.75,31.0],[21.95,16.4],
  [22.0,15.8],[22.1,21.0],[22.2,28.4],[22.3,10.6],[22.4,18.6],[22.5,24.0],[22.6,12.8],[22.7,26.4],[22.8,22.0],[22.9,11.6],[23.0,17.8],[23.1,28.0],[23.2,14.4],[23.3,22.4],[23.4,10.2],[23.5,25.4],[23.6,16.6],[23.7,30.2],[23.8,19.8],[23.9,13.8],[22.25,32.0],[22.65,16.8],[23.05,20.6],[23.45,31.4],[23.85,26.6],
  [24.0,17.4],[24.2,22.0],[24.4,12.4],[24.6,26.0],[24.8,14.8],[25.0,21.0],[25.2,13.4],[25.4,27.6],[25.6,17.8],[25.8,21.8],[24.1,30.6],[24.3,15.6],[24.5,19.4],[24.7,28.8],[24.9,24.0],[25.1,16.6],[25.3,23.6],[25.5,31.0],[25.7,28.2],[25.9,15.2],
  [26.3,18.4],[26.7,23.0],[27.2,15.2],[27.7,26.6],[28.1,19.6],[28.5,24.0],[29.0,16.4],[29.5,27.6],[26.0,26.4],[26.9,31.0],[27.4,22.4],[28.4,32.0],[29.2,22.2],[29.8,25.0],[27.0,28.8],
  [10.6,31.8],[11.6,35.4],[12.4,37.6],[13.2,32.0],[14.0,36.8],[14.8,33.0],[15.6,36.4],[16.4,38.6],[17.0,34.4],[17.8,37.2],[18.6,32.6],[19.4,38.0],[20.0,34.4],[20.8,36.8],[21.6,40.4],[22.2,35.2],[23.0,37.8],[23.8,34.4],[24.6,39.6],[25.4,36.2],[26.2,39.4],[27.0,35.0],[27.8,37.6],[28.6,31.6],[29.4,38.4],[18.0,41.0],[21.0,42.8],[24.2,42.0],[26.8,42.6],
  [27.6,24.0],[28.4,20.8],[29.2,28.4],[30.6,25.0],[31.4,30.6],[32.2,20.2],[33.0,27.6],[34.0,32.0],[35.4,26.4],[36.2,21.4],[37.2,28.4],[30.0,17.4],[32.8,35.8],[29.0,33.2]
];

// c) CI_CA
const pointsC = [
  [0.4,0.5],[1.2,1.0],[0.8,2.2],[1.7,0.6],[1.0,3.4],[0.6,1.4],[1.5,2.5],[2.0,1.2],[1.3,4.1],[0.9,0.2],[1.9,3.3],[0.3,2.9],
  [2.3,2.1],[3.2,4.8],[2.7,5.9],[3.6,2.4],[2.5,3.6],[3.9,7.3],[2.9,0.7],[3.4,8.6],[2.2,4.9],[3.7,5.1],[3.0,10.0],[2.6,7.8],[3.8,1.1],[3.3,1.9],[2.8,9.2],[3.5,6.4],[2.4,0.3],[3.1,3.4],
  [4.2,3.0],[5.1,6.4],[4.7,9.0],[5.8,4.1],[4.4,11.6],[5.5,10.3],[4.9,1.2],[5.3,13.0],[4.0,5.4],[5.9,8.0],[4.6,14.2],[5.2,2.2],[4.3,7.5],[5.7,12.0],[4.8,4.4],[5.0,16.0],[5.6,15.0],[4.1,10.0],[5.4,0.5],[4.5,17.5],[5.9,18.8],[5.1,8.6],
  [6.3,5.0],[7.4,2.6],[6.8,9.0],[7.9,6.8],[6.1,12.4],[7.2,14.8],[6.6,1.3],[7.7,11.2],[6.4,7.6],[7.0,17.0],[6.9,19.8],[7.6,4.1],[6.2,15.4],[7.3,12.8],[6.7,10.6],[7.8,16.7],[6.5,3.3],[7.1,7.8],[6.0,19.0],[7.5,20.4],[6.8,14.0],[7.9,9.8],[6.3,22.0],[7.2,0.7],[6.6,6.0],[7.7,23.6],
  [8.2,4.6],[9.3,7.7],[8.7,10.8],[9.8,13.8],[8.4,16.0],[9.1,2.0],[8.9,18.6],[9.6,20.8],[8.1,12.6],[9.4,23.6],[8.6,21.9],[9.9,5.6],[8.3,8.4],[9.2,11.6],[8.8,25.0],[9.7,17.0],[8.0,19.4],[9.5,26.5],[8.5,2.8],[9.0,14.6],[8.7,6.0],[9.8,9.6],[8.2,24.0],[9.3,18.4],[9.6,22.8],[8.4,0.9],[9.1,25.9],[8.6,17.4],[9.9,11.4],
  [10.3,7.8],[11.4,4.6],[10.8,12.3],[11.9,10.4],[10.1,15.4],[11.2,17.9],[10.6,20.8],[11.7,14.6],[10.4,23.6],[11.0,26.0],[10.9,2.9],[11.6,22.4],[10.2,28.2],[11.3,24.6],[10.7,5.7],[11.8,19.6],[10.5,17.4],[11.1,9.1],[10.0,11.8],[11.5,27.4],[10.8,30.0],[11.9,29.0],[10.3,13.7],[11.2,12.8],[10.6,25.9],[11.7,7.2],[10.1,21.6],[11.0,0.9],
  [12.2,6.0],[13.3,10.6],[12.7,14.6],[13.8,18.0],[12.1,20.0],[13.1,3.6],[12.9,23.8],[13.6,26.4],[12.4,29.0],[13.4,13.6],[12.6,8.8],[13.9,21.6],[12.3,31.6],[13.2,33.0],[12.8,11.8],[13.7,29.8],[12.0,17.0],[13.5,15.9],[12.5,25.9],[13.0,19.4],[12.7,21.6],[13.8,7.0],[12.2,10.9],[13.3,28.0],[13.6,23.2],[12.4,1.8],[13.1,25.0],[12.6,32.0],[13.9,12.0],[13.4,5.0],
  [14.2,7.2],[15.3,12.0],[14.7,16.2],[15.8,19.4],[14.1,22.4],[15.1,4.4],[14.9,25.5],[15.6,28.0],[14.4,31.0],[15.4,14.4],[14.6,9.6],[15.9,23.4],[14.3,34.0],[15.2,36.0],[14.8,12.8],[15.7,32.4],[14.0,18.6],[15.5,30.2],[14.5,27.0],[15.0,20.8],[14.7,29.2],[15.8,7.8],[14.2,26.6],[15.3,25.6],[14.9,2.0],[15.6,17.0],[14.4,20.4],[15.1,24.2],[14.6,0.4],[15.9,15.0],[14.1,13.4],
  [16.2,8.6],[17.3,13.2],[16.7,17.4],[17.8,21.0],[16.1,24.0],[17.1,5.8],[16.9,27.0],[17.6,29.8],[16.4,32.8],[17.4,15.6],[16.6,10.8],[17.9,25.0],[16.3,35.6],[17.2,37.4],[16.8,14.2],[17.7,33.8],[16.0,20.0],[17.5,18.4],[16.5,29.0],[17.0,22.4],[16.7,31.2],[17.8,9.4],[16.2,28.0],[17.3,26.6],[16.9,4.2],[17.6,23.8],[16.4,12.4],[17.1,31.8],[16.6,19.2],[17.9,16.6],
  [18.2,10.0],[19.3,14.4],[18.7,18.4],[19.8,22.0],[18.1,25.2],[19.1,7.2],[18.9,28.0],[19.6,30.8],[18.4,33.6],[19.4,16.8],[18.6,12.0],[19.9,26.4],[18.3,36.6],[19.2,38.6],[18.8,15.4],[19.7,34.6],[18.0,21.6],[19.5,20.2],[18.5,29.8],[19.0,23.6],[18.7,32.6],[19.8,10.4],[18.2,5.0],[19.3,28.8],[18.9,13.2],[19.6,25.0],[18.4,27.0],
  [20.2,11.4],[21.3,15.8],[20.7,19.6],[21.8,23.2],[20.1,26.4],[21.1,8.4],[20.9,29.0],[21.6,31.8],[20.4,34.6],[21.4,17.8],[20.6,13.4],[21.9,27.6],[20.3,37.4],[21.2,39.4],[20.8,16.4],[21.7,35.6],[20.0,22.8],[21.5,21.0],[20.5,24.8],[21.0,30.6],[20.7,6.2],[21.8,12.0],[20.2,32.8],[21.3,25.8],
  [22.2,12.6],[23.3,17.0],[22.7,20.8],[23.8,24.4],[22.1,27.6],[23.1,9.8],[22.9,30.2],[23.6,32.8],[22.4,35.6],[23.4,19.4],[22.6,15.0],[23.9,29.0],[22.3,38.4],[23.2,40.6],[22.8,18.0],[23.7,37.0],[22.0,23.8],[23.5,22.4],[22.5,26.0],[23.0,31.4],[22.7,7.6],[23.8,13.4],
  [24.2,14.0],[25.3,18.4],[24.7,22.2],[25.8,25.8],[24.1,29.0],[25.1,11.0],[24.9,31.8],[25.6,34.0],[24.4,37.2],[25.4,21.0],[24.6,16.4],[25.9,30.2],[24.3,40.0],[25.2,24.4],[24.8,19.0],[25.7,38.0],[24.0,25.4],[25.5,14.6],[24.5,33.2],[25.0,27.4],
  [26.2,16.6],[27.5,21.8],[26.8,25.8],[28.3,29.6],[27.1,33.8],[29.2,20.4],[26.5,36.6],[28.8,24.8],[27.8,14.4],[29.6,31.6],[26.1,29.6],[28.0,38.4],[27.3,11.6],[29.0,27.2],[26.9,40.2],[28.6,17.0],[29.9,35.8],[27.6,30.8],[26.4,22.6],[28.9,34.6],[29.4,23.4],[27.0,19.0],[28.2,41.0],[29.7,15.0],[26.7,13.0],
  [30.4,19.6],[31.7,26.0],[32.9,30.6],[30.9,33.8],[33.8,23.0],[31.2,16.0],[34.4,29.0],[32.2,37.4],[30.1,27.4],[33.3,17.6],[34.9,33.0],[31.6,39.0],[32.6,24.0],[30.7,40.6],[33.9,36.0],[34.2,14.4],[31.0,22.0],[32.4,28.6],[33.5,39.6],[34.7,20.4],
  [35.6,23.0],[36.3,27.4],[37.0,31.4],[37.7,20.0],[38.4,25.6],[39.1,29.6],[36.1,36.0],[36.8,16.0],[37.4,24.0],[38.2,34.6],[38.9,22.0],[40.1,26.8],[41.2,30.6],[42.5,32.8],[40.6,22.8],[35.2,18.8],
  // scattered points away from the cloud
  [18.7,56.8],[22.7,57.3],[27.7,57.8],[30.3,59.5],[30.8,59.0],[32.2,59.3],[27.5,55.9],[30.5,55.9],[30.9,55.9],[35.7,56.9],[36.0,57.3],[36.6,58.1],[38.3,54.3],[43.1,56.4],[47.4,55.6],[43.4,53.4],[45.8,52.2],[40.1,52.1],[37.8,52.1],[41.0,50.0],[44.6,50.0],[47.1,49.5],[45.1,46.2],[49.2,44.1],[45.8,42.3],[42.7,41.1],[47.9,36.1],[41.3,35.5],[43.4,28.0],[43.4,26.0],[40.5,23.8],[43.4,14.7],[40.2,7.6],[35.6,9.7],[23.5,2.2],[25.5,5.3],[18.7,53.3],[18.3,54.1],[20.0,53.4],[20.8,52.9],[18.1,50.5],[20.4,46.3],[22.0,50.7],[23.1,50.7],[25.2,51.7],[23.5,48.7],[24.1,48.0],[26.7,49.7],[27.9,52.1],[28.5,51.2],[32.3,52.9],[33.9,52.7],[29.7,50.5],[32.5,48.5],[33.8,47.4],[33.8,46.8],[36.5,45.5],[39.1,44.6],[36.7,42.8],[34.9,42.8],[36.0,42.8],[32.2,42.6],[29.9,41.5],[39.0,39.8],[40.7,41.0],[41.5,37.7],[38.7,31.2],[37.9,28.5],[36.4,26.8],[36.0,25.1],[33.1,20.9],[34.6,19.2],[33.9,15.0],[31.5,13.3],[29.9,14.2],[27.3,9.4],[24.8,7.4],[8.1,33.5],[6.3,27.1],[4.4,21.7],[3.9,16.8],[3.3,11.0],[0.4,4.2],[13.5,42.0],[14.3,41.8],[13.2,39.4],[12.3,35.6],[10.0,28.0],[13.9,36.0]
];
// c) the dark core of the cloud and its denser fringe
const coreC = [
  [0.2,1.0],[0.4,2.6],[0.7,0.3],[1.0,1.6],[1.2,3.0],[1.4,0.8],[1.6,1.9],[1.8,2.9],[0.3,0.3],[0.9,3.8],[1.5,3.4],[1.1,0.5],[1.9,0.9],[0.6,1.9],[1.3,2.2],
  [2.1,4.4],[2.2,1.6],[2.4,8.0],[2.5,0.7],[2.6,3.2],[2.7,9.5],[2.8,6.0],[2.9,1.3],[3.0,4.0],[3.1,8.3],[3.2,2.6],[3.3,0.4],[3.4,5.2],[3.5,9.2],[3.6,6.8],[3.7,1.2],[3.8,3.3],[3.9,7.6],[2.3,5.6],[2.5,2.4],[2.8,2.8],[3.1,6.0],[3.4,1.1],[3.7,10.2],[3.9,4.6],[2.2,6.8],[2.6,9.0],[3.0,0.6],[3.3,11.0],[3.6,4.2],
  [4.0,2.2],[4.1,6.8],[4.2,12.0],[4.3,4.0],[4.4,0.9],[4.5,9.4],[4.6,5.2],[4.7,13.6],[4.8,7.8],[4.9,2.7],[5.0,11.2],[5.1,0.5],[5.2,6.0],[5.3,12.8],[5.4,2.0],[5.5,8.0],[5.6,10.2],[5.7,3.8],[5.8,14.2],[5.9,5.8],[4.05,9.6],[4.25,5.4],[4.45,2.0],[4.65,10.6],[4.85,14.6],[5.05,4.2],[5.25,8.8],[5.45,12.0],[5.65,1.2],[5.85,9.6],[4.35,13.2],[4.75,0.4],[5.15,15.4],[5.55,6.6],[5.95,11.6],
  [6.0,2.2],[6.1,6.4],[6.2,10.0],[6.3,15.2],[6.4,3.0],[6.5,12.6],[6.6,18.4],[6.7,8.4],[6.8,4.6],[6.9,14.2],[7.0,10.8],[7.1,19.2],[7.2,5.6],[7.3,9.2],[7.4,16.2],[7.5,2.6],[7.6,13.0],[7.7,7.0],[7.8,18.0],[7.9,11.0],[6.05,12.4],[6.25,19.6],[6.45,8.0],[6.65,11.8],[6.85,17.0],[7.05,1.0],[7.25,15.0],[7.45,7.8],[7.65,17.2],[7.85,3.8],[6.15,4.4],[6.35,11.2],[6.55,16.4],[6.75,13.6],[6.95,3.4],[7.15,9.8],[7.35,20.4],[7.55,11.6],[7.75,1.5],[7.95,14.0],
  [8.0,5.4],[8.1,16.0],[8.2,9.0],[8.3,19.8],[8.4,11.8],[8.5,1.4],[8.6,7.6],[8.7,18.0],[8.8,13.2],[8.9,3.6],[9.0,10.4],[9.1,19.4],[9.2,14.8],[9.3,2.6],[9.4,8.6],[9.5,21.4],[9.6,12.2],[9.7,6.0],[9.8,17.4],[9.9,14.2],[8.05,13.6],[8.25,2.8],[8.45,22.0],[8.65,10.6],[8.85,6.4],[9.05,16.6],[9.25,5.2],[9.45,12.6],[9.65,9.8],[9.85,20.6],[8.15,19.0],[8.35,10.2],[8.55,15.4],[8.75,2.2],[8.95,21.8],[9.15,7.4],[9.35,13.8],[9.55,3.4],[9.75,18.8],[9.95,7.6],
  [10.0,9.4],[10.1,18.2],[10.2,5.0],[10.3,21.4],[10.4,14.0],[10.5,2.4],[10.6,10.6],[10.7,24.0],[10.8,15.6],[10.9,7.8],[11.0,19.6],[11.1,12.8],[11.2,3.8],[11.3,16.0],[11.4,22.6],[11.5,10.0],[11.6,13.2],[11.7,25.2],[11.8,2.8],[11.9,15.6],[10.05,24.6],[10.25,14.8],[10.45,6.8],[10.65,17.8],[10.85,25.6],[11.05,4.6],[11.25,20.6],[11.45,14.2],[11.65,10.8],[11.85,22.8],[10.15,12.0],[10.35,3.4],[10.55,20.0],[10.75,13.0],[10.95,17.2],[11.15,23.8],[11.35,7.2],[11.55,18.4],[11.75,5.2],[11.95,19.8],
  [12.0,12.8],[12.1,23.6],[12.2,8.4],[12.3,17.8],[12.4,4.2],[12.5,20.6],[12.6,15.2],[12.7,27.0],[12.8,6.6],[12.9,16.8],[13.0,10.8],[13.1,21.6],[13.2,14.2],[13.3,25.0],[13.4,5.4],[13.5,19.6],[13.6,11.4],[13.7,23.2],[13.8,9.2],[13.9,16.2],[12.05,20.0],[12.25,13.8],[12.45,25.6],[12.65,6.0],[12.85,15.6],[13.05,26.8],[13.25,7.8],[13.45,18.0],[13.65,12.8],[13.85,24.4],[12.15,3.6],[12.35,10.2],[12.55,22.8],[12.75,18.6],[12.95,3.4],[13.15,12.4],[13.35,20.2],[13.55,26.2],[13.75,6.8],[13.95,17.6],
  [14.0,7.8],[14.1,16.2],[14.2,27.6],[14.3,11.4],[14.4,22.6],[14.5,5.2],[14.6,18.8],[14.7,29.0],[14.8,9.6],[14.9,20.0],[15.0,14.4],[15.1,25.8],[15.2,7.2],[15.3,17.8],[15.4,22.2],[15.5,12.2],[15.6,28.4],[15.7,8.8],[15.8,24.8],[15.9,18.6],[14.05,13.2],[14.25,19.8],[14.45,25.0],[14.65,6.6],[14.85,17.0],[15.05,28.8],[15.25,10.2],[15.45,19.4],[15.65,14.8],[15.85,5.6],[14.15,4.8],[14.35,9.0],[14.55,14.6],[14.75,21.8],[14.95,26.4],[15.15,16.0],[15.35,5.8],[15.55,24.6],[15.75,20.8],[15.95,11.4],
  [16.0,15.4],[16.1,24.8],[16.2,6.4],[16.3,20.4],[16.4,10.6],[16.5,28.6],[16.6,16.0],[16.7,8.4],[16.8,23.4],[16.9,12.4],[17.0,18.8],[17.1,27.4],[17.2,9.6],[17.3,22.0],[17.4,6.8],[17.5,26.4],[17.6,14.4],[17.7,19.4],[17.8,11.6],[17.9,29.4],[16.05,9.6],[16.25,17.8],[16.45,25.6],[16.65,13.6],[16.85,20.2],[17.05,11.2],[17.25,23.4],[17.45,16.8],[17.65,7.8],[17.85,25.4],[16.15,29.6],[16.35,7.2],[16.55,22.2],[16.75,5.6],[16.95,15.8],[17.15,30.6],[17.35,20.6],[17.55,9.8],
  [18.0,12.0],[18.1,18.6],[18.2,25.6],[18.3,8.0],[18.4,15.2],[18.5,22.4],[18.6,29.6],[18.7,9.8],[18.8,19.8],[18.9,12.6],[19.0,26.2],[19.1,17.0],[19.2,8.6],[19.3,22.6],[19.4,10.8],[19.5,28.6],[19.6,14.2],[19.7,20.6],[19.8,9.0],[19.9,24.0],[18.05,30.4],[18.25,13.8],[18.45,18.8],[18.65,26.6],[18.85,10.6],[19.05,21.2],[19.25,16.0],[19.45,25.2],[19.65,12.4],[19.85,29.4],[18.15,7.0],[18.35,23.0],[18.55,16.6],[18.75,9.0],[19.15,13.2],
  [20.0,14.2],[20.1,21.8],[20.2,28.6],[20.3,10.0],[20.4,17.2],[20.5,24.6],[20.6,11.6],[20.7,20.8],[20.8,27.0],[20.9,14.4],[21.0,18.4],[21.1,10.4],[21.2,23.6],[21.3,29.4],[21.4,12.8],[21.5,16.6],[21.6,22.4],[21.7,26.4],[21.8,10.8],[21.9,19.4],[20.15,18.2],[20.35,12.8],[20.55,27.4],[20.75,30.6],[20.95,23.2],[21.15,15.2],[21.35,19.8],[21.55,12.2],[21.75,30.0],[21.95,16.2],
  [22.0,15.6],[22.1,20.8],[22.2,27.8],[22.3,12.0],[22.4,18.4],[22.5,23.6],[22.6,13.4],[22.7,26.0],[22.8,21.6],[22.9,12.6],[23.0,17.6],[23.1,27.4],[23.2,14.6],[23.3,22.0],[23.4,12.2],[23.5,25.0],[23.6,16.4],[23.7,29.6],[23.8,19.6],[23.9,14.0],[22.25,31.0],[22.65,16.6],[23.05,20.4],[23.45,30.8],[23.85,26.2],
  [24.0,17.2],[24.2,21.8],[24.4,13.6],[24.6,25.6],[24.8,15.0],[25.0,20.8],[25.2,14.0],[25.4,27.2],[25.6,17.6],[25.8,21.6],[24.1,30.0],[24.3,15.8],[24.5,19.2],[24.7,28.4],[24.9,23.8],[25.1,16.6],[25.3,23.4],[25.5,30.6],[25.7,27.8],[25.9,15.6],
  [26.3,18.6],[26.7,23.2],[27.2,16.0],[27.7,26.8],[28.1,20.0],[28.5,24.4],[29.0,17.2],[29.5,27.8],[26.0,26.6],[26.9,31.2],[27.4,22.6],[28.4,31.6],[29.2,22.6],[29.8,25.4],[27.0,28.6],
  [12.8,30.6],[13.6,33.2],[14.4,28.6],[15.2,31.8],[16.0,34.4],[16.8,30.0],[17.6,35.6],[18.4,31.0],[19.2,34.8],[20.0,31.4],[20.8,36.2],[21.6,33.6],[22.4,29.8],[23.2,35.0],[24.0,33.0],[24.8,37.0],[25.6,31.2],[26.4,34.6],[27.2,38.0],[28.0,33.6],[28.8,37.4],[29.6,29.2],[19.8,39.6],[22.6,41.4],[25.8,40.8],[27.6,42.0],[17.4,38.4],
  [27.0,23.6],[28.2,26.4],[29.0,19.6],[30.2,24.0],[31.0,28.4],[31.8,20.8],[32.6,26.8],[33.6,31.4],[34.6,25.8],[35.6,30.2],[36.6,22.6],[37.6,27.2],[30.8,35.8],[32.4,18.0]
];

const PLOT_TOP = 86, PLOT_BOTTOM = 323;
const Y_BOX = 40, X_BOX = 30;
const INK = '#141414';

// box around the plotting area
const frame = {
  id: 'frame',
  afterDraw(chart) {
    const a = chart.chartArea, ctx = chart.ctx;
    ctx.save();
    ctx.strokeStyle = INK;
    ctx.lineWidth = 1.2;
    ctx.strokeRect(a.left, a.top, a.right - a.left, a.bottom - a.top);
    ctx.restore();
  }
};

function axis(box, isX) {
  return {
    type: 'linear', min: 0, max: 60,
    afterBuildTicks: s => { s.ticks = tickValues.map(v => ({ value: v })); },
    afterFit: s => { if (isX) s.height = box; else s.width = box; },
    ticks: { color: '#222', padding: 6, font: { family: '"Liberation Sans", Arial, sans-serif', size: 17 } },
    grid: { drawOnChartArea: false, drawTicks: true, tickLength: 7, color: INK, lineWidth: 1.2 },
    border: { display: true, color: INK, width: 1.2 }
  };
}

function makePanel(id, pts, core, left, right) {
  const all = pts.concat(core);
  new Chart(document.getElementById(id), {
    type: 'scatter',
    data: {
      datasets: [
        { data: all.map(p => ({ x: p[0], y: p[1] })), pointRadius: 2.6, pointHoverRadius: 2.6,
          backgroundColor: INK, borderWidth: 0, pointStyle: 'circle' },
        { type: 'line', data: oneToOne.map(p => ({ x: p[0], y: p[1] })), showLine: true,
          borderColor: INK, borderWidth: 1.1, pointRadius: 0, fill: false }
      ]
    },
    options: {
      responsive: false, animation: false, events: [],
      layout: { padding: { left: left - Y_BOX, right: 974 - right, top: PLOT_TOP, bottom: 387 - PLOT_BOTTOM - X_BOX } },
      plugins: { legend: { display: false }, tooltip: { enabled: false } },
      scales: { x: axis(X_BOX, true), y: axis(Y_BOX, false) }
    },
    plugins: [frame]
  });
}

makePanel('ca', pointsA, coreA, 80, 323);
makePanel('cb', pointsB, coreB, 398, 645);
makePanel('cc', pointsC, coreC, 716, 966);
</script>
</body>
</html>
